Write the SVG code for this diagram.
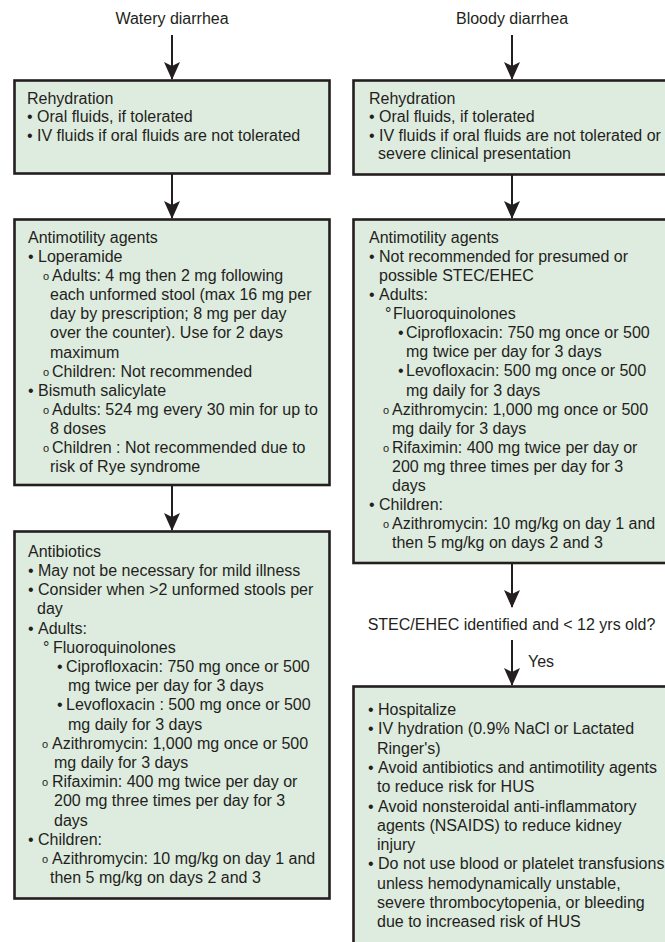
<svg xmlns="http://www.w3.org/2000/svg" width="665" height="942" viewBox="0 0 665 942">
<style>
text{font-family:"Liberation Sans",Arial,Helvetica,sans-serif;font-size:16px;fill:#231f20}
.box{fill:#deebdf;stroke:#231f20;stroke-width:2.6}
.conn{stroke:#231f20;stroke-width:2;fill:none}
.c{text-anchor:middle}
.o{font-size:11px}
</style>
<defs>
<marker id="arr" viewBox="0 0 18 16" refX="17" refY="8" markerWidth="18" markerHeight="16" markerUnits="userSpaceOnUse" orient="auto">
<path d="M0,0 L18,8 L0,16 L4,8 Z" fill="#231f20"/>
</marker>
</defs>
<rect width="665" height="942" fill="#ffffff"/>

<g id="connectors">
<line class="conn" x1="172" y1="35" x2="172" y2="79" marker-end="url(#arr)"/>
<line class="conn" x1="172" y1="174" x2="172" y2="218" marker-end="url(#arr)"/>
<line class="conn" x1="172" y1="486" x2="172" y2="530" marker-end="url(#arr)"/>
<line class="conn" x1="512" y1="35" x2="512" y2="79" marker-end="url(#arr)"/>
<line class="conn" x1="512" y1="175" x2="512" y2="218" marker-end="url(#arr)"/>
<line class="conn" x1="512" y1="564" x2="512" y2="607" marker-end="url(#arr)"/>
<line class="conn" x1="512" y1="640" x2="512" y2="685" marker-end="url(#arr)"/>
<text x="528" y="667">Yes</text>
</g>

<g id="watery-label"><text class="c" x="172" y="24">Watery diarrhea</text></g>
<g id="bloody-label"><text class="c" x="512" y="24">Bloody diarrhea</text></g>

<g id="w-rehydration">
<rect class="box" x="14.5" y="80.5" width="315" height="93"/>
<text x="27" y="103.5">Rehydration</text>
<text y="122"><tspan x="27">•</tspan><tspan x="37">Oral fluids, if tolerated</tspan></text>
<text y="140.5"><tspan x="27">•</tspan><tspan x="37">IV fluids if oral fluids are not tolerated</tspan></text>
</g>

<g id="w-antimotility">
<rect class="box" x="14.5" y="219.5" width="315" height="265.5"/>
<text x="28" y="243">Antimotility agents</text>
<text y="262.1"><tspan x="28">•</tspan><tspan x="38">Loperamide</tspan></text>
<text y="281.2"><tspan class="o" x="43" dy="-1">o</tspan><tspan x="52" dy="1">Adults: 4 mg then 2 mg following</tspan></text>
<text x="50" y="300.2">each unformed stool (max 16 mg per</text>
<text x="50" y="319.3">day by prescription; 8 mg per day</text>
<text x="50" y="338.4">over the counter). Use for 2 days</text>
<text x="50" y="357.5">maximum</text>
<text y="376.6"><tspan class="o" x="43" dy="-1">o</tspan><tspan x="52" dy="1">Children: Not recommended</tspan></text>
<text y="395.6"><tspan x="28">•</tspan><tspan x="38">Bismuth salicylate</tspan></text>
<text y="414.7"><tspan class="o" x="43" dy="-1">o</tspan><tspan x="52" dy="1">Adults: 524 mg every 30 min for up to</tspan></text>
<text x="50" y="433.8">8 doses</text>
<text y="452.9"><tspan class="o" x="43" dy="-1">o</tspan><tspan x="52" dy="1">Children : Not recommended due to</tspan></text>
<text x="50" y="472">risk of Rye syndrome</text>
</g>

<g id="w-antibiotics">
<rect class="box" x="14.5" y="531.5" width="315" height="367"/>
<text x="28" y="556.7">Antibiotics</text>
<text y="575.9"><tspan x="28">•</tspan><tspan x="38">May not be necessary for mild illness</tspan></text>
<text y="595.1"><tspan x="28">•</tspan><tspan x="38">Consider when &gt;2 unformed stools per</tspan></text>
<text x="37" y="614.3">day</text>
<text y="633.5"><tspan x="28">•</tspan><tspan x="38">Adults:</tspan></text>
<text y="652.7"><tspan x="43">°</tspan><tspan x="53">Fluoroquinolones</tspan></text>
<text y="671.9"><tspan x="57">•</tspan><tspan x="66">Ciprofloxacin: 750 mg once or 500</tspan></text>
<text x="68" y="691.1">mg twice per day for 3 days</text>
<text y="710.3"><tspan x="57">•</tspan><tspan x="66">Levofloxacin : 500 mg once or 500</tspan></text>
<text x="68" y="729.5">mg daily for 3 days</text>
<text y="748.7"><tspan class="o" x="42" dy="-1">o</tspan><tspan x="52" dy="1">Azithromycin: 1,000 mg once or 500</tspan></text>
<text x="54" y="767.9">mg daily for 3 days</text>
<text y="787.1"><tspan class="o" x="42" dy="-1">o</tspan><tspan x="52" dy="1">Rifaximin: 400 mg twice per day or</tspan></text>
<text x="54" y="806.3">200 mg three times per day for 3</text>
<text x="54" y="825.5">days</text>
<text y="844.7"><tspan x="28">•</tspan><tspan x="38">Children:</tspan></text>
<text y="863.9"><tspan class="o" x="42" dy="-1">o</tspan><tspan x="52" dy="1">Azithromycin: 10 mg/kg on day 1 and</tspan></text>
<text x="50" y="883.1">then 5 mg/kg on days 2 and 3</text>
</g>

<g id="b-rehydration">
<rect class="box" x="353.5" y="80.5" width="330" height="94"/>
<text x="369" y="103.5">Rehydration</text>
<text y="122"><tspan x="369">•</tspan><tspan x="379">Oral fluids, if tolerated</tspan></text>
<text y="140.5"><tspan x="369">•</tspan><tspan x="379">IV fluids if oral fluids are not tolerated or</tspan></text>
<text x="378" y="159">severe clinical presentation</text>
</g>

<g id="b-antimotility">
<rect class="box" x="353.5" y="219.5" width="330" height="343.5"/>
<text x="369" y="243">Antimotility agents</text>
<text y="262.1"><tspan x="369">•</tspan><tspan x="379">Not recommended for presumed or</tspan></text>
<text x="379" y="281.1">possible STEC/EHEC</text>
<text y="300.2"><tspan x="369">•</tspan><tspan x="379">Adults:</tspan></text>
<text y="319.2"><tspan x="385">°</tspan><tspan x="393">Fluoroquinolones</tspan></text>
<text y="338.3"><tspan x="398">•</tspan><tspan x="406">Ciprofloxacin: 750 mg once or 500</tspan></text>
<text x="406" y="357.4">mg twice per day for 3 days</text>
<text y="376.4"><tspan x="398">•</tspan><tspan x="406">Levofloxacin: 500 mg once or 500</tspan></text>
<text x="406" y="395.5">mg daily for 3 days</text>
<text y="414.5"><tspan class="o" x="383" dy="-1">o</tspan><tspan x="392" dy="1">Azithromycin: 1,000 mg once or 500</tspan></text>
<text x="392" y="433.6">mg daily for 3 days</text>
<text y="452.7"><tspan class="o" x="383" dy="-1">o</tspan><tspan x="392" dy="1">Rifaximin: 400 mg twice per day or</tspan></text>
<text x="392" y="471.7">200 mg three times per day for 3</text>
<text x="392" y="490.8">days</text>
<text y="509.8"><tspan x="369">•</tspan><tspan x="379">Children:</tspan></text>
<text y="528.9"><tspan class="o" x="383" dy="-1">o</tspan><tspan x="392" dy="1">Azithromycin: 10 mg/kg on day 1 and</tspan></text>
<text x="392" y="548">then 5 mg/kg on days 2 and 3</text>
</g>

<g id="stec-question"><text class="c" x="511.5" y="630">STEC/EHEC identified and &lt; 12 yrs old?</text></g>

<g id="b-hus">
<rect class="box" x="353.5" y="686.5" width="330" height="280"/>
<text y="715"><tspan x="368">•</tspan><tspan x="378">Hospitalize</tspan></text>
<text y="734.3"><tspan x="368">•</tspan><tspan x="378">IV hydration (0.9% NaCl or Lactated</tspan></text>
<text x="377" y="753.6">Ringer's)</text>
<text y="772.9"><tspan x="368">•</tspan><tspan x="378">Avoid antibiotics and antimotility agents</tspan></text>
<text x="377" y="792.2">to reduce risk for HUS</text>
<text y="811.5"><tspan x="368">•</tspan><tspan x="378">Avoid nonsteroidal anti-inflammatory</tspan></text>
<text x="377" y="830.8">agents (NSAIDS) to reduce kidney</text>
<text x="377" y="850.1">injury</text>
<text y="869.4"><tspan x="368">•</tspan><tspan x="378">Do not use blood or platelet transfusions</tspan></text>
<text x="377" y="888.7">unless hemodynamically unstable,</text>
<text x="377" y="908">severe thrombocytopenia, or bleeding</text>
<text x="377" y="927.3">due to increased risk of HUS</text>
</g>
</svg>
